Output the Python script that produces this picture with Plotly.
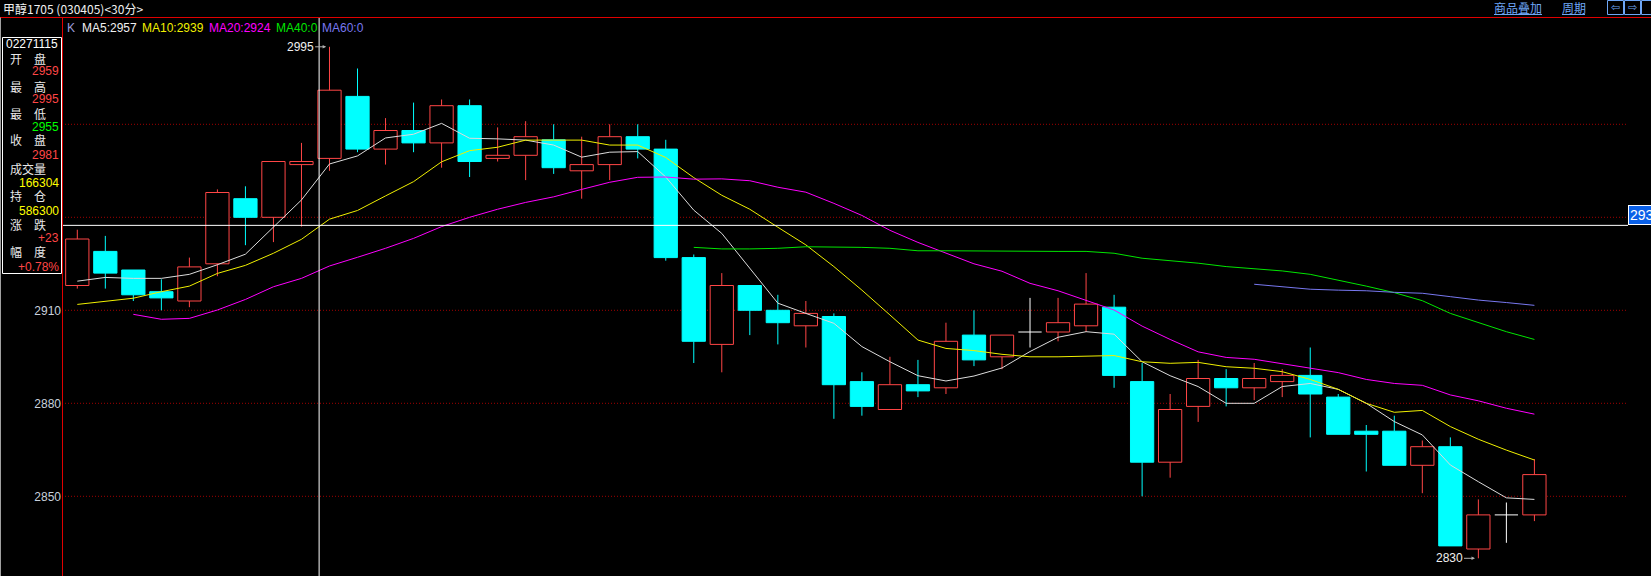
import plotly.graph_objects as go

# ---------------- data ----------------
TITLE = "甲醇1705 (030405)&lt;30分&gt;"
OPEN = [2918, 2929, 2923, 2916, 2913, 2925, 2946, 2940, 2957, 2959,
        2979, 2962, 2968, 2964, 2976, 2959, 2960, 2965, 2955, 2957,
        2966, 2962, 2927, 2899, 2918, 2910, 2905, 2908, 2887, 2878,
        2886, 2885, 2902, 2895, 2903, 2903, 2905, 2911, 2887, 2861,
        2879, 2888, 2885, 2887, 2889, 2882, 2871, 2871, 2860, 2866,
        2833, 2844, 2844]
HIGH = [2936, 2934, 2923, 2920, 2927, 2949, 2950, 2958, 2964, 2995,
        2988, 2972, 2977, 2978, 2978, 2969, 2971, 2970, 2966, 2970,
        2970, 2965, 2928, 2922, 2918, 2915, 2913, 2909, 2890, 2895,
        2894, 2906, 2910, 2902, 2914, 2914, 2922, 2915, 2893, 2883,
        2894, 2891, 2893, 2891, 2898, 2883, 2873, 2876, 2868, 2869,
        2849, 2848, 2862]
LOW = [2917, 2917, 2913, 2910, 2911, 2921, 2931, 2932, 2937, 2955,
       2961, 2957, 2961, 2956, 2953, 2958, 2952, 2954, 2946, 2952,
       2959, 2926, 2893, 2890, 2902, 2899, 2898, 2875, 2876, 2878,
       2882, 2883, 2892, 2891, 2898, 2900, 2903, 2885, 2850, 2856,
       2874, 2879, 2881, 2882, 2869, 2870, 2858, 2860, 2851, 2834,
       2830, 2835, 2842]
CLOSE = [2933, 2922, 2915, 2914, 2924, 2948, 2940, 2958, 2958, 2981,
         2962, 2968, 2964, 2976, 2958, 2960, 2966, 2956, 2957, 2966,
         2962, 2927, 2900, 2918, 2910, 2906, 2909, 2886, 2879, 2886,
         2884, 2900, 2894, 2902, 2903, 2906, 2912, 2889, 2861, 2878,
         2888, 2885, 2888, 2889, 2883, 2870, 2870, 2860, 2866, 2834,
         2844, 2844, 2857]
MA5 = [2919.4, 2920.6, 2920.3, 2920.3, 2921.6, 2924.7, 2928.1, 2936.8, 2945.6, 2957.2,
       2959.8, 2965.6, 2966.8, 2970.3, 2965.5, 2965.3, 2964.9, 2963.3, 2959.4, 2961.0,
       2961.2, 2953.0, 2942.3, 2934.8, 2923.5, 2912.3, 2909.0, 2905.8, 2898.3, 2893.4,
       2888.9, 2887.2, 2888.8, 2891.4, 2896.7, 2901.3, 2903.1, 2902.3, 2893.4, 2888.9,
       2885.4, 2880.0, 2880.0, 2885.4, 2886.4, 2884.5, 2880.0, 2874.1, 2869.8, 2860.1,
       2854.7, 2849.5, 2849.0]
MA10 = [2911.9, 2912.8, 2913.9, 2916.0, 2917.8, 2921.9, 2924.5, 2928.4, 2932.9, 2939.4,
        2942.2, 2946.9, 2951.5, 2957.9, 2961.5, 2962.6, 2964.9, 2964.9, 2964.9, 2963.3,
        2963.3, 2959.3, 2952.8, 2947.1, 2942.6, 2936.8, 2931.1, 2924.1, 2916.5, 2908.5,
        2900.4, 2897.7, 2897.0, 2895.8, 2895.0, 2895.0, 2895.3, 2895.4, 2893.4, 2892.9,
        2893.2, 2891.8, 2891.3, 2890.2, 2887.7, 2884.5, 2880.0, 2877.1, 2877.7, 2872.5,
        2868.4, 2864.9, 2861.7]
MA20 = [None, None, 2908.7, 2907.1, 2907.4, 2910.1, 2913.5, 2917.6, 2920.3, 2924.3,
        2927.1, 2930.0, 2933.2, 2937.0, 2940.0, 2942.6, 2944.8, 2946.6, 2949.0, 2951.3,
        2952.9, 2953.0, 2952.3, 2952.4, 2951.8, 2949.7, 2948.1, 2944.5, 2940.6, 2935.8,
        2931.9, 2928.5, 2925.0, 2922.6, 2918.7, 2916.3, 2913.3, 2910.1, 2904.9, 2900.6,
        2896.6, 2894.8, 2894.2, 2892.7, 2891.3, 2889.9, 2887.7, 2886.4, 2885.8, 2882.7,
        2880.8, 2878.4, 2876.5]
MA40 = [None] * 22 + [2930.3, 2929.8, 2929.8, 2930.0, 2930.5, 2930.5, 2930.3, 2930.0, 2929.2, 2929.2,
                      2929.1, 2929.0, 2929.0, 2929.0, 2929.0, 2928.4, 2926.8, 2926.0, 2925.2, 2924.1,
                      2923.3, 2922.7, 2921.6, 2919.8, 2917.8, 2915.7, 2913.1, 2909.0, 2906.0, 2903.1,
                      2900.6]
MA60 = [None] * 42 + [2918.4, 2917.6, 2916.8, 2916.5, 2916.3, 2915.8, 2915.5, 2914.4, 2913.3, 2912.5,
                      2911.6]
GRID_LEVELS = [2850, 2880, 2910, 2940, 2970]
TICK_VALS = [2850, 2880, 2910]
TICK_TEXT = ["2850", "2880", "2910"]
SEL = 9                      # selected candle (info box)
SEL_TIME = "02271115"
SEL_VOLUME = "166304"
SEL_OI = "586300"
CROSS_X = 8.63
CROSS_Y = 2937.4

# ---------------- styling ----------------
RED = "#ff4646"
CYAN = "#00ffff"
WHITE = "#ffffff"
GRID = "#a00000"
FONT = "Liberation Sans, Noto Sans CJK SC, sans-serif"
CJK = "Noto Sans CJK SC, sans-serif"
W, H = 1651, 576
PL, PR, PT, PB = 62, 1628, 18, 576
Y0, Y1 = 2824.29, 3004.29
X0, X1 = -0.546, 55.34
BODY_W = 0.83


def px(x):
    return (x - PL) / (PR - PL)


def py(y):
    return (PB - y) / (PB - PT)


n = len(CLOSE)
idx = list(range(n))
up = [i for i in idx if CLOSE[i] > OPEN[i]]
dn = [i for i in idx if CLOSE[i] < OPEN[i]]
dj = [i for i in idx if CLOSE[i] == OPEN[i]]


def wick_xy(ids, full=False):
    xs, ys = [], []
    for i in ids:
        top = max(OPEN[i], CLOSE[i])
        bot = min(OPEN[i], CLOSE[i])
        if full:
            xs += [i, i, None]
            ys += [HIGH[i], LOW[i], None]
        else:
            if HIGH[i] > top:
                xs += [i, i, None]
                ys += [HIGH[i], top, None]
            if LOW[i] < bot:
                xs += [i, i, None]
                ys += [bot, LOW[i], None]
    return xs, ys


fig = go.Figure()

# bodies
fig.add_trace(go.Bar(x=up, y=[CLOSE[i] - OPEN[i] for i in up], base=[OPEN[i] for i in up],
                     width=BODY_W, marker=dict(color="#000000", line=dict(color=RED, width=1))))
fig.add_trace(go.Bar(x=dn, y=[OPEN[i] - CLOSE[i] for i in dn], base=[CLOSE[i] for i in dn],
                     width=BODY_W, marker=dict(color=CYAN, line=dict(color=CYAN, width=1))))

# wicks
for ids, col, full in [(up, RED, False), (dn, CYAN, False), (dj, WHITE, True)]:
    xs, ys = wick_xy(ids, full)
    fig.add_trace(go.Scatter(x=xs, y=ys, mode="lines", line=dict(color=col, width=1)))
# doji bars
dx, dy = [], []
for i in dj:
    dx += [i - BODY_W / 2, i + BODY_W / 2, None]
    dy += [OPEN[i], OPEN[i], None]
fig.add_trace(go.Scatter(x=dx, y=dy, mode="lines", line=dict(color=WHITE, width=1)))

# moving averages
MA_STYLE = [("MA5", MA5, "#dcdcdc"), ("MA10", MA10, "#f0f000"), ("MA20", MA20, "#ff00ff"),
            ("MA40", MA40, "#00e600"), ("MA60", MA60, "#7878f0")]
for name, vals, col in MA_STYLE:
    fig.add_trace(go.Scatter(x=idx, y=vals, mode="lines", line=dict(color=col, width=1),
                             connectgaps=False))

shapes = []
for g in GRID_LEVELS:
    shapes.append(dict(type="line", xref="paper", yref="y", x0=0, x1=1, y0=g, y1=g,
                       line=dict(color=GRID, width=1, dash="1px,2px"), layer="below"))
# crosshair
shapes.append(dict(type="line", xref="x", yref="paper", x0=CROSS_X, x1=CROSS_X, y0=0, y1=1,
                   line=dict(color=WHITE, width=1), layer="above"))
shapes.append(dict(type="line", xref="paper", yref="y", x0=0, x1=1, y0=CROSS_Y, y1=CROSS_Y,
                   line=dict(color=WHITE, width=1), layer="above"))
# frame lines
shapes.append(dict(type="line", xref="paper", yref="paper", x0=px(0), x1=px(W), y0=py(17.5), y1=py(17.5),
                   line=dict(color="#e00000", width=1), layer="above"))
shapes.append(dict(type="line", xref="paper", yref="paper", x0=px(62.5), x1=px(62.5), y0=0, y1=py(17.5),
                   line=dict(color="#e00000", width=1), layer="above"))
shapes.append(dict(type="line", xref="paper", yref="paper", x0=px(0.5), x1=px(0.5), y0=0, y1=py(17.5),
                   line=dict(color="#a0a0a0", width=1), layer="above"))
# info box
shapes.append(dict(type="rect", xref="paper", yref="paper", x0=px(2.5), x1=px(61.5), y0=py(273.5), y1=py(37.5),
                   line=dict(color=WHITE, width=1), fillcolor="#000000", layer="above"))
# top-right controls
LINK = "#6ea6f5"
shapes.append(dict(type="line", xref="paper", yref="paper", x0=px(1494), x1=px(1542), y0=py(14.5), y1=py(14.5),
                   line=dict(color=LINK, width=1)))
shapes.append(dict(type="line", xref="paper", yref="paper", x0=px(1562), x1=px(1585), y0=py(14.5), y1=py(14.5),
                   line=dict(color=LINK, width=1)))
for bx0, bx1 in [(1607.5, 1623.5), (1624.5, 1640.5), (1641.5, 1660)]:
    shapes.append(dict(type="rect", xref="paper", yref="paper", x0=px(bx0), x1=px(bx1), y0=py(14.5), y1=py(0.5),
                       line=dict(color=LINK, width=1)))

ann = []


def txt(x, y, s, color, size=12, anchor="left", font=FONT):
    ann.append(dict(xref="paper", yref="paper", x=px(x), y=py(y), text=s, showarrow=False,
                    xanchor=anchor, yanchor="middle", font=dict(color=color, size=size, family=font)))


txt(1, 8.5, TITLE, "#f0f0f0", 12, font=CJK)
txt(1518, 8, "商品叠加", LINK, 12, "center", CJK)
txt(1573.5, 8, "周期", LINK, 12, "center", CJK)
txt(1615.5, 7.5, "⇦", LINK, 11, "center", "DejaVu Sans")
txt(1632.5, 7.5, "⇨", LINK, 11, "center", "DejaVu Sans")

# header
def mav(v):
    return "0" if v is None else f"{v:.0f}"


txt(65, 28, "K", "#9c9cd8")
hx = [80, 140, 207, 274, 320]
for (name, vals, col), x in zip(MA_STYLE, hx):
    hc = "#f0f0f0" if name == "MA5" else col
    txt(x, 28, f"{name}:{mav(vals[SEL])}", hc)

# info box
prev = CLOSE[SEL - 1]


def pc(v):
    return RED if v > prev else ("#00ff00" if v < prev else WHITE)


chg = CLOSE[SEL] - prev
pct = chg / prev * 100
txt(32, 44, SEL_TIME, WHITE, 12, "center")
rows = [("开　盘", f"{OPEN[SEL]}", pc(OPEN[SEL])),
        ("最　高", f"{HIGH[SEL]}", pc(HIGH[SEL])),
        ("最　低", f"{LOW[SEL]}", pc(LOW[SEL])),
        ("收　盘", f"{CLOSE[SEL]}", pc(CLOSE[SEL])),
        ("成交量", SEL_VOLUME, "#ffff00"),
        ("持　仓", SEL_OI, "#ffff00"),
        ("涨　跌", f"{chg:+d}", pc(CLOSE[SEL])),
        ("幅　度", f"{pct:+.2f}%", pc(CLOSE[SEL]))]
ly = [58.3, 86.7, 113.3, 140, 168.3, 195.7, 224.3, 251.7]
vy = [70.7, 99, 126.7, 155, 182.7, 210.7, 238.3, 266.7]
for (lab, val, col), a, b in zip(rows, ly, vy):
    txt(27.5, a, lab, "#e8e8e8", 12, "center", CJK)
    txt(61, b, val, col, 12, "right")

# extreme markers
hi_i = HIGH.index(max(HIGH))
lo_i = LOW.index(min(LOW))
for i, v in [(hi_i, HIGH[hi_i]), (lo_i, LOW[lo_i])]:
    ann.append(dict(xref="x", yref="y", x=i - 0.12, y=v, text=f"{v}", showarrow=True, ax=-26, ay=0,
                    arrowhead=2, arrowsize=0.7, arrowwidth=1, arrowcolor="#b0b0b0", standoff=0,
                    font=dict(color="#f0f0f0", size=12, family=FONT)))

# crosshair price label (cut by the right edge, as in the original screen)
ann.append(dict(xref="paper", yref="y", x=1, y=CROSS_Y, text=f"{CROSS_Y:.0f}", showarrow=False,
                xanchor="left", yanchor="bottom", bgcolor="#0a60e8", bordercolor=WHITE, borderwidth=1,
                borderpad=1, font=dict(color=WHITE, size=14, family=FONT)))

fig.update_layout(
    width=W, height=H,
    margin=dict(l=PL, r=W - PR, t=PT, b=H - PB, pad=0),
    paper_bgcolor="#000000", plot_bgcolor="#000000",
    showlegend=False, hovermode=False, barmode="overlay",
    shapes=shapes, annotations=ann,
    xaxis=dict(range=[X0, X1], visible=False, fixedrange=True),
    yaxis=dict(range=[Y0, Y1], tickvals=TICK_VALS, ticktext=TICK_TEXT, showgrid=False,
               zeroline=False, showline=False, ticks="",
               tickfont=dict(color="#c8d0dc", size=12, family=FONT), fixedrange=True),
)

fig.write_html(
    "out.html",
    config={"displayModeBar": False},
    post_script="document.body.style.margin='0';document.body.style.overflow='hidden';"
                "document.body.style.background='#000';",
)
